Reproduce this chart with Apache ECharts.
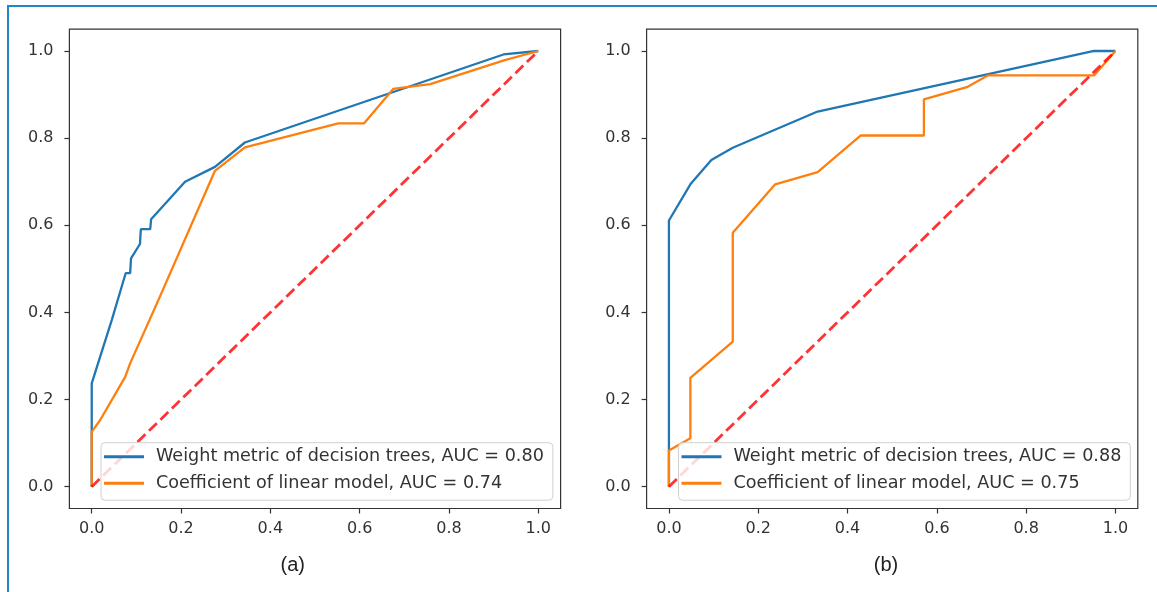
<!DOCTYPE html>
<html>
<head>
<meta charset="utf-8">
<script src="https://cdn.jsdelivr.net/npm/echarts@6/dist/echarts.min.js"></script>
<style>
  html, body { margin: 0; padding: 0; background: #fff; overflow: hidden; }
  #chart { position: absolute; left: 0; top: 0; width: 1157px; height: 592px; }
  #frame { position: absolute; left: 7px; top: 5px; width: 1200px; height: 700px;
           border-top: 2px solid #1f87c8; border-left: 2px solid #1f87c8; pointer-events: none; }
</style>
</head>
<body>
<div id="chart"></div>
<div id="frame"></div>
<script>
// ---- data ----
const xTicks = [0.0, 0.2, 0.4, 0.6, 0.8, 1.0];
const yTicks = [0.0, 0.2, 0.4, 0.6, 0.8, 1.0];

const panelLabels = ['(a)', '(b)'];

const namesA = ['Weight metric of decision trees, AUC = 0.80', 'Coefficient of linear model, AUC = 0.74'];
const namesB = ['Weight metric of decision trees, AUC = 0.88', 'Coefficient of linear model, AUC = 0.75'];

// panel (a)
const treeAx = [0, 0, 0.045, 0.076, 0.086, 0.088, 0.108, 0.110, 0.131, 0.133, 0.209, 0.276, 0.343, 0.922, 1.0];
const treeAy = [0, 0.237, 0.383, 0.490, 0.490, 0.524, 0.557, 0.591, 0.591, 0.614, 0.700, 0.734, 0.790, 0.992, 1.0];
const linAx = [0, 0, 0.019, 0.075, 0.086, 0.150, 0.276, 0.343, 0.552, 0.610, 0.675, 0.758, 0.925, 1.0];
const linAy = [0, 0.126, 0.153, 0.252, 0.283, 0.430, 0.725, 0.779, 0.834, 0.834, 0.913, 0.924, 0.979, 1.0];

// panel (b)
const treeBx = [0, 0, 0.048, 0.095, 0.143, 0.333, 0.952, 1.0];
const treeBy = [0, 0.611, 0.694, 0.750, 0.778, 0.861, 1.0, 1.0];
const linBx = [0, 0, 0.048, 0.048, 0.143, 0.143, 0.238, 0.333, 0.429, 0.571, 0.571, 0.667, 0.714, 0.952, 1.0];
const linBy = [0, 0.083, 0.111, 0.250, 0.333, 0.583, 0.694, 0.722, 0.806, 0.806, 0.889, 0.917, 0.944, 0.944, 1.0];

// chance diagonal
const chanceX = [0, 1];
const chanceY = [0, 1];

// ---- build ----
const zip = (xs, ys) => xs.map((x, i) => [x, ys[i]]);
const FONT = 'DejaVu Sans';
const BLUE = '#1f77b4', ORANGE = '#ff7f0e', RED = 'rgba(255,0,0,0.8)';

function axisCommon(ticks) {
  return {
    type: 'value', min: -0.05, max: 1.05,
    axisLine: { show: false, onZero: false },
    splitLine: { show: false },
    axisTick: { show: true, customValues: ticks, length: 5, inside: false,
                lineStyle: { color: '#333', width: 1.2 } },
    axisLabel: { customValues: ticks, formatter: v => v.toFixed(1),
                 color: '#333', fontFamily: FONT, fontSize: 16 }
  };
}

const grids = [
  { left: 69.4, top: 29.2, width: 491.2, height: 479.3 },
  { left: 646.6, top: 29.2, width: 491.2, height: 479.3 }
].map(g => Object.assign(g, { show: true, borderColor: '#333', borderWidth: 1.2, backgroundColor: 'transparent' }));

const xAxes = [0, 1].map(i => {
  const a = axisCommon(xTicks); a.gridIndex = i; a.axisLabel.margin = 12; return a;
});
const yAxes = [0, 1].map(i => {
  const a = axisCommon(yTicks); a.gridIndex = i; a.axisLabel.margin = 16; return a;
});

function lineSeries(name, data, idx, color, width, dashed) {
  return {
    type: 'line', name, data, xAxisIndex: idx, yAxisIndex: idx,
    showSymbol: false, symbol: 'none', animation: false, silent: true,
    lineStyle: { color, width, type: dashed ? [11, 5] : 'solid' },
    itemStyle: { color }
  };
}

const series = [
  lineSeries(namesA[0], zip(treeAx, treeAy), 0, BLUE, 2.3, false),
  lineSeries(namesA[1], zip(linAx, linAy), 0, ORANGE, 2.3, false),
  lineSeries('chance (a)', zip(chanceX, chanceY), 0, RED, 2.8, true),
  lineSeries(namesB[0], zip(treeBx, treeBy), 1, BLUE, 2.3, false),
  lineSeries(namesB[1], zip(linBx, linBy), 1, ORANGE, 2.3, false),
  lineSeries('chance (b)', zip(chanceX, chanceY), 1, RED, 2.8, true)
];

function legend(names, left) {
  return {
    data: names, orient: 'vertical', left, top: 442.7,
    icon: 'rect', itemWidth: 40, itemHeight: 3, itemGap: 6.5,
    padding: [4, 9, 7, 3],
    backgroundColor: 'rgba(255,255,255,0.8)',
    borderColor: 'rgba(204,204,204,0.9)', borderWidth: 1, borderRadius: 4,
    selectedMode: false,
    textStyle: { fontFamily: FONT, fontSize: 17.6, color: '#333', lineHeight: 20, padding: [0, 0, 0, 7] }
  };
}

const chart = echarts.init(document.getElementById('chart'), null, { renderer: 'canvas' });
chart.setOption({
  animation: false,
  backgroundColor: '#fff',
  grid: grids,
  xAxis: xAxes,
  yAxis: yAxes,
  legend: [legend(namesA, 101), legend(namesB, 678.5)],
  title: [
    { text: panelLabels[0], left: 292.7, top: 565, textAlign: 'center', textVerticalAlign: 'middle',
      textStyle: { fontFamily: 'Liberation Sans', fontSize: 20, fontWeight: 'normal', color: '#222' }, padding: 0 },
    { text: panelLabels[1], left: 886, top: 565, textAlign: 'center', textVerticalAlign: 'middle',
      textStyle: { fontFamily: 'Liberation Sans', fontSize: 20, fontWeight: 'normal', color: '#222' }, padding: 0 }
  ],
  series
});
</script>
</body>
</html>
